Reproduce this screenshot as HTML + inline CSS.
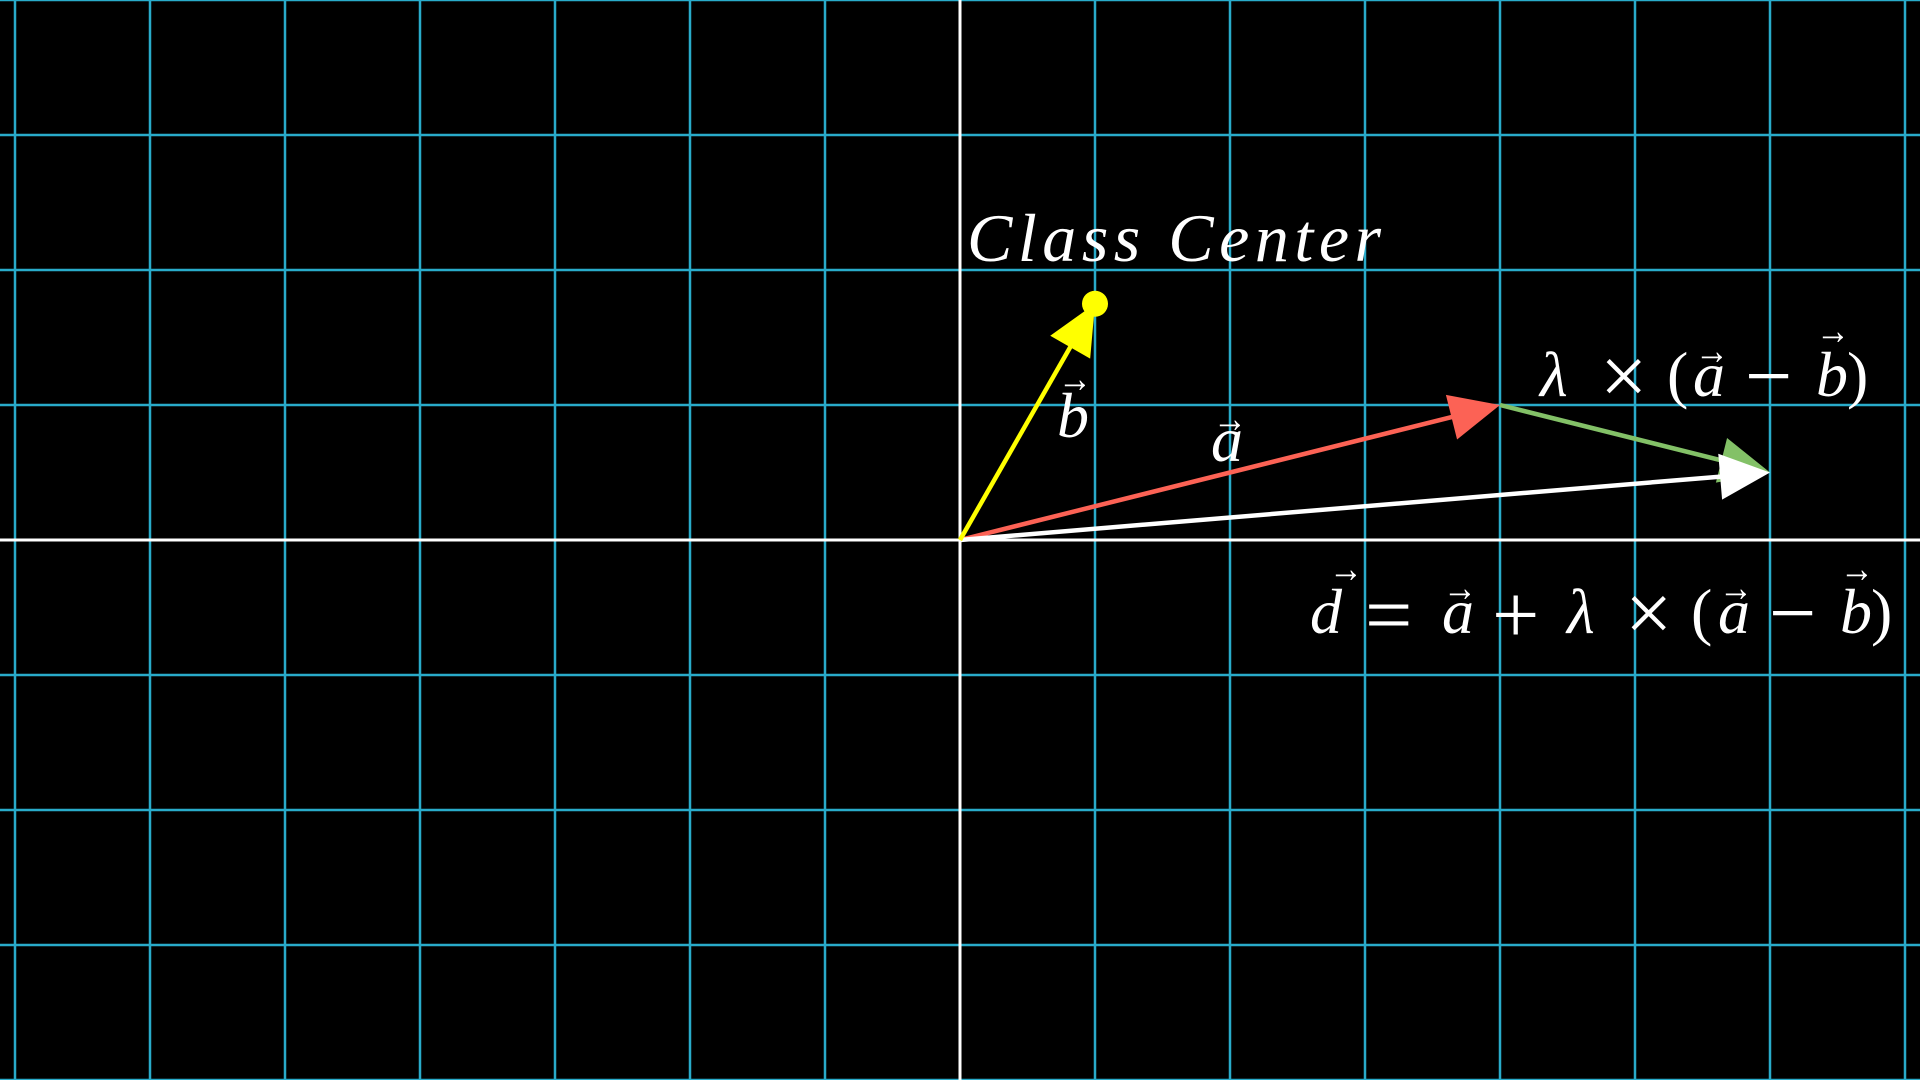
<!DOCTYPE html>
<html><head><meta charset="utf-8"><style>
html,body{margin:0;padding:0;background:#000;}
svg{display:block;}
text{font-family:"Liberation Serif","DejaVu Serif",serif;fill:#fff;}
.it{font-style:italic;}
.m{font-size:64px;}
.op{font-size:84px;}
.ar{font-size:40px;}
</style></head><body>
<svg id="chart" width="1920" height="1080" viewBox="0 0 1920 1080" xmlns="http://www.w3.org/2000/svg">
<rect width="1920" height="1080" fill="#000"/>
<g id="grid"></g>
<g id="vecs"></g>
<g id="labels">
  <text class="it" x="967" y="261" font-size="68" textLength="414" lengthAdjust="spacing">Class Center</text>
  <g>
    <text class="it m" x="1057" y="437">b</text>
    <text class="ar" x="1058" y="392" textLength="34" lengthAdjust="spacingAndGlyphs">→</text>
  </g>
  <g>
    <text class="it m" x="1211" y="461">a</text>
    <text class="ar" x="1213" y="432" textLength="34" lengthAdjust="spacingAndGlyphs">→</text>
  </g>
  <g>
    <text class="it m" x="1540" y="396">λ</text>
    <text class="op" x="1600" y="404">×</text>
    <text class="m" x="1667" y="396">(</text>
    <text class="it m" x="1693" y="396">a</text>
    <text class="op" x="1745" y="404">−</text>
    <text class="it m" x="1816" y="396">b</text>
    <text class="m" x="1847" y="396">)</text>
    <text class="ar" x="1695" y="364" textLength="34" lengthAdjust="spacingAndGlyphs">→</text>
    <text class="ar" x="1816" y="344" textLength="34" lengthAdjust="spacingAndGlyphs">→</text>
  </g>
  <g>
    <text class="it m" x="1310" y="633">d</text>
    <text class="op" x="1365" y="643">=</text>
    <text class="it m" x="1442" y="633">a</text>
    <text class="op" x="1492" y="643">+</text>
    <text class="it m" x="1567" y="633">λ</text>
    <text class="op" x="1625" y="641">×</text>
    <text class="m" x="1691" y="633">(</text>
    <text class="it m" x="1718" y="633">a</text>
    <text class="op" x="1769" y="641">−</text>
    <text class="it m" x="1840" y="633">b</text>
    <text class="m" x="1871" y="633">)</text>
    <text class="ar" x="1329" y="582" textLength="34" lengthAdjust="spacingAndGlyphs">→</text>
    <text class="ar" x="1443" y="601" textLength="34" lengthAdjust="spacingAndGlyphs">→</text>
    <text class="ar" x="1719" y="601" textLength="34" lengthAdjust="spacingAndGlyphs">→</text>
    <text class="ar" x="1840" y="582" textLength="34" lengthAdjust="spacingAndGlyphs">→</text>
  </g>
</g>
</svg>
<script>
const gridXs = [-7,-6,-5,-4,-3,-2,-1,0,1,2,3,4,5,6,7];
const gridYs = [-4,-3,-2,-1,0,1,2,3,4];
const vecNames = ['vector-b','vector-a','vector-lambda','vector-d'];
const vecStartX = [0,0,4,0];
const vecStartY = [0,0,1,0];
const vecEndX = [1,4,6,6];
const vecEndY = [1.75,1,0.5,0.5];
const vecColors = ['#FFFF00','#FC6255','#83C167','#FFFFFF'];
const dotX = [1];
const dotY = [1.75];
const NS='http://www.w3.org/2000/svg';
const unit=135, ox=960, oy=540;
const X=u=>ox+unit*u, Y=v=>oy-unit*v;
const grid=document.getElementById('grid');
function line(p,x1,y1,x2,y2,c,w,name){const l=document.createElementNS(NS,'line');
l.setAttribute('x1',x1);l.setAttribute('y1',y1);l.setAttribute('x2',x2);l.setAttribute('y2',y2);
l.setAttribute('stroke',c);l.setAttribute('stroke-width',w);


p.appendChild(l);return l;}
gridXs.forEach(g=>{if(g!==0)line(grid,X(g),0,X(g),1080,'#29ABCA',2.5,'grid-line-x');});
gridYs.forEach(g=>{if(g!==0)line(grid,0,Y(g),1920,Y(g),'#29ABCA',2.5,'grid-line-y');});
line(grid,X(0),0,X(0),1080,'#FFFFFF',3,'y-axis');
line(grid,0,Y(0),1920,Y(0),'#FFFFFF',3,'x-axis');
const vg=document.getElementById('vecs');
const order=[1,2,3,0];
order.forEach(i=>{
 const x1=X(vecStartX[i]),y1=Y(vecStartY[i]),x2=X(vecEndX[i]),y2=Y(vecEndY[i]);
 const dx=x2-x1,dy=y2-y1,L=Math.hypot(dx,dy),ux=dx/L,uy=dy/L;
 const hl=50,hw=23;
 const g=document.createElementNS(NS,'g');
 
 
 line(g,x1,y1,x2-ux*hl*0.8,y2-uy*hl*0.8,vecColors[i],4.5,vecNames[i]+'-shaft');
 const bx=x2-ux*hl,by=y2-uy*hl;
 const p=document.createElementNS(NS,'polygon');
 p.setAttribute('points',`${x2},${y2} ${bx-uy*hw},${by+ux*hw} ${bx+uy*hw},${by-ux*hw}`);
 p.setAttribute('fill',vecColors[i]);
 
 
 g.appendChild(p);vg.appendChild(g);
});
dotX.forEach((d,i)=>{const c=document.createElementNS(NS,'circle');
c.setAttribute('cx',X(d));c.setAttribute('cy',Y(dotY[i]));c.setAttribute('r',13);c.setAttribute('fill','#FFFF00');


vg.appendChild(c);});
</script>
</body></html>
